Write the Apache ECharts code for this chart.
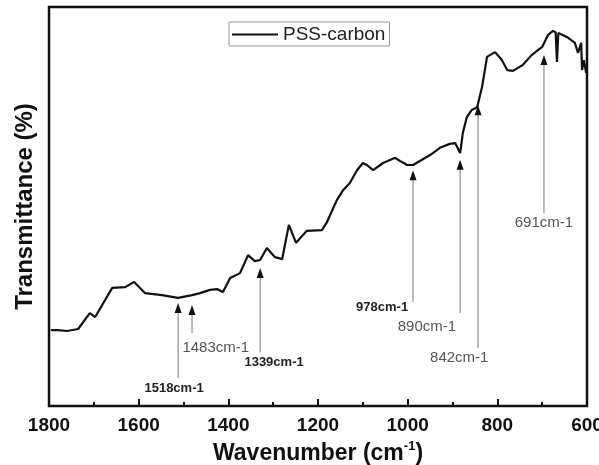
<!DOCTYPE html>
<html>
<head>
<meta charset="utf-8">
<title>PSS-carbon FTIR</title>
<script src="https://cdn.jsdelivr.net/npm/echarts@6/dist/echarts.min.js"></script>
</head>
<body style="margin:0">
<div id="box" style="width:599px;height:465px;"></div>
<script>
// spectrum (wavenumber, transmittance in arbitrary 0-100 units)
var waveNumbers = [1796, 1780, 1760, 1735, 1709, 1697, 1659, 1630, 1610, 1586, 1548, 1512, 1481,
  1463, 1441, 1425, 1412, 1396, 1374, 1356, 1341, 1329, 1314, 1296, 1280, 1265, 1249, 1225,
  1191, 1180, 1158, 1144, 1129, 1113, 1100, 1091, 1077, 1055, 1028, 1017, 1001, 988, 950,
  928, 906, 894, 883, 877, 868, 857, 845, 834, 823, 805, 790, 778, 765, 743, 723, 700, 687,
  676, 670, 667, 664, 660, 645, 627, 620, 613, 611, 607, 602]
var transmittance = [19.0, 19.0, 18.8, 19.3, 23.3, 22.3, 29.6, 29.8, 31.1, 28.3, 27.8, 27.1, 27.8,
  28.3, 29.1, 29.3, 28.6, 32.1, 33.3, 37.8, 36.3, 36.6, 39.6, 37.3, 36.8, 45.4, 40.9, 43.9,
  44.1, 46.1, 51.6, 54.1, 55.9, 59.1, 60.9, 60.4, 59.1, 60.9, 62.2, 61.4, 60.4, 60.4, 62.9,
  64.7, 65.7, 65.9, 63.4, 68.4, 72.4, 74.2, 74.9, 80.0, 87.5, 88.7, 86.7, 84.2, 84.0, 85.5,
  88.0, 90.0, 93.0, 94.0, 93.7, 86.2, 93.5, 93.7, 92.5, 91.0, 88.5, 91.0, 84.2, 86.7, 83.5]

// peak annotations: arrow x, arrow tip, arrow foot, label x, label y
var annLabels = ['1518cm-1', '1483cm-1', '1339cm-1', '978cm-1', '890cm-1', '842cm-1', '691cm-1']
var annWave = [1512, 1481, 1329, 988, 883, 843, 696]
var annTip = [25.8, 25.3, 34.6, 59.1, 61.7, 75.4, 88.0]
var annFoot = [7.0, 18.3, 13.5, 26.1, 23.3, 14.5, 48.4]
var annTextX = [1521, 1428, 1298, 1057, 957, 885, 696]
var annTextY = [4.5, 14.5, 10.8, 24.6, 19.8, 12.0, 45.9]
var boldLabels = ['1518cm-1', '1339cm-1', '978cm-1']

var seriesData = []
for (var i = 0; i < waveNumbers.length; i++) {
  seriesData.push([waveNumbers[i], transmittance[i]])
}
var annData = []
for (var j = 0; j < annLabels.length; j++) {
  annData.push([annWave[j], annTip[j], annFoot[j], annTextX[j], annTextY[j]])
}

var mCharts = echarts.init(document.querySelector('#box'))
var option = {
  animation: false,
  grid: {
    left: 49, right: 12, top: 7, bottom: 59,
    outerBoundsMode: 'none',
    containLabel: false,
    show: true, borderColor: '#111', borderWidth: 2.5
  },
  legend: {
    data: [{ name: 'PSS-carbon', icon: 'rect' }],
    left: 229, top: 22,
    itemWidth: 46, itemHeight: 2,
    borderColor: '#999', borderWidth: 1,
    padding: [3, 4, 2, 3],
    itemGap: 4,
    textStyle: { fontFamily: 'Liberation Sans', fontSize: 19, color: '#222', padding: [0, 0, 0, 0] }
  },
  xAxis: {
    type: 'value',
    inverse: true,
    min: 600, max: 1800, interval: 200,
    axisLine: { show: false },
    splitLine: { show: false },
    axisTick: { inside: true, length: 7, lineStyle: { color: '#111', width: 2 } },
    minorTick: { show: true, splitNumber: 2, length: 4, lineStyle: { color: '#111', width: 2 } },
    axisLabel: {
      margin: 10, fontFamily: 'Liberation Sans', fontWeight: 'bold', fontSize: 19, color: '#111',
      formatter: function (v) { return String(v) }
    },
    name: '{a|Wavenumber (cm}{s|-1}{a|)}',
    nameLocation: 'middle',
    nameGap: 33,
    nameTextStyle: {
      rich: {
        a: { fontFamily: 'Liberation Sans', fontWeight: 'bold', fontSize: 23, color: '#111' },
        s: { fontFamily: 'Liberation Sans', fontWeight: 'bold', fontSize: 13, color: '#111', padding: [0, 0, 14, 0] }
      }
    }
  },
  yAxis: {
    type: 'value',
    min: 0, max: 100,
    axisLine: { show: false },
    axisTick: { show: false },
    axisLabel: { show: false },
    splitLine: { show: false },
    name: 'Transmittance (%)',
    nameLocation: 'middle',
    nameGap: 12,
    nameTextStyle: { fontFamily: 'Liberation Sans', fontWeight: 'bold', fontSize: 24, color: '#111' }
  },
  series: [
    {
      name: 'PSS-carbon',
      type: 'line',
      data: seriesData,
      showSymbol: false,
      symbol: 'none',
      lineStyle: { color: '#111', width: 2.2 },
      itemStyle: { color: '#111' }
    },
    {
      name: 'peaks',
      type: 'custom',
      data: annData,
      encode: { x: 0, y: 1 },
      silent: true,
      renderItem: function (params, api) {
        var tip = api.coord([api.value(0), api.value(1)])
        var foot = api.coord([api.value(0), api.value(2)])
        var txt = api.coord([api.value(3), api.value(4)])
        var label = annLabels[params.dataIndex]
        var bold = boldLabels.indexOf(label) >= 0
        return {
          type: 'group',
          children: [
            { type: 'line', shape: { x1: foot[0], y1: foot[1], x2: tip[0], y2: tip[1] + 6 },
              style: { stroke: '#777', lineWidth: 1 } },
            { type: 'polygon', shape: { points: [[tip[0], tip[1]], [tip[0] - 3.5, tip[1] + 10], [tip[0] + 3.5, tip[1] + 10]] },
              style: { fill: '#111' } },
            { type: 'text', x: txt[0], y: txt[1],
              style: {
                text: label, align: 'center', verticalAlign: 'middle',
                fontFamily: 'Liberation Sans',
                fontSize: bold ? 13 : 15,
                fontWeight: bold ? 'bold' : 'normal',
                fill: bold ? '#222' : '#555'
              } }
          ]
        }
      }
    }
  ]
}
mCharts.setOption(option)
</script>
</body>
</html>
